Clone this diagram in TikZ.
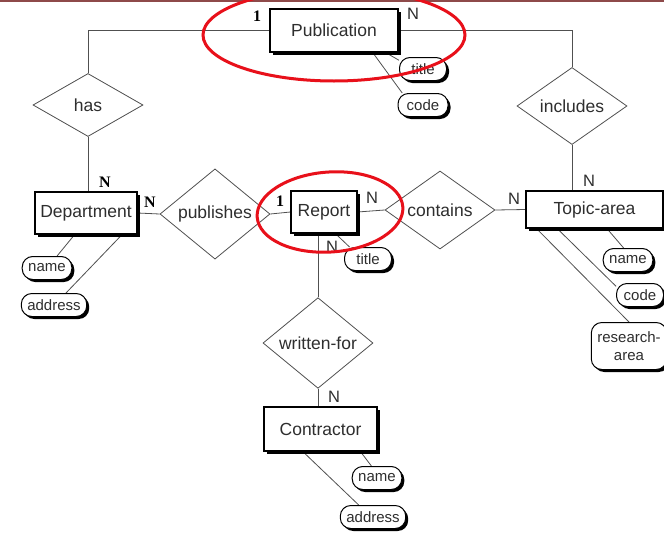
\documentclass[tikz,border=0pt]{standalone}
\usepackage{fontspec}
\setmainfont{Liberation Sans}
\newfontfamily\cardfont{Liberation Serif}
\usetikzlibrary{shapes.geometric,shadows,calc}

\definecolor{ink}{HTML}{2E2E2E}
\definecolor{edge}{HTML}{505050}
\definecolor{topband}{HTML}{8E4A4A}
\definecolor{mark}{HTML}{E8101A}

\pgfdeclarelayer{bg}
\pgfdeclarelayer{paper}
\pgfsetlayers{paper,bg,main}

\begin{document}
\begin{tikzpicture}[x=1pt,y=-1pt,
  entity/.style={draw=black, line width=1.1pt, fill=white, text=ink,
    font=\fontsize{17.5}{20}\selectfont, inner sep=0pt,
    general shadow={fill=black, shadow xshift=2.6pt, shadow yshift=-2.6pt}},
  relation/.style={diamond, draw=edge, line width=0.8pt, fill=white, text=ink,
    font=\fontsize{17.5}{20}\selectfont, inner sep=0pt,
    minimum width=110pt, minimum height=63pt},
  attr/.style={draw=black, line width=1pt, fill=white, rounded corners=10.5pt,
    text=ink, font=\fontsize{15}{18}\selectfont, inner xsep=6pt, inner ysep=0pt,
    minimum height=23pt, minimum width=47pt, align=center,
    general shadow={fill=black, shadow xshift=2.5pt, shadow yshift=-2.5pt}},
  link/.style={draw=edge, line width=0.8pt},
  card/.style={text=ink, font=\fontsize{16.5}{18}\selectfont, inner sep=0pt},
  cardb/.style={text=black, font=\cardfont\fontsize{16}{18}\selectfont\bfseries, inner sep=0pt},
  ring/.style={draw=mark, line width=3pt}
]
\useasboundingbox (0,0) rectangle (664,533);
\begin{pgfonlayer}{paper}
  \fill[white] (0,0) rectangle (664,533);
  \fill[topband] (0,0) rectangle (664,1.8);
\end{pgfonlayer}

% entities
\node[entity, minimum width=128pt, minimum height=43pt] (pub) at (334,30.5) {Publication};
\node[entity, minimum width=102pt, minimum height=42pt] (dept) at (86,213) {Department};
\node[entity, minimum width=66pt, minimum height=42pt] (rep) at (324,212) {Report};
\node[entity, minimum width=137pt, minimum height=37pt] (topic) at (594.5,209.5) {Topic-area};
\node[entity, minimum width=113pt, minimum height=44pt] (con) at (320.5,429) {Contractor};

% relationships
\node[relation] (has) at (88,105) {has};
\node[relation] (incl) at (572,106) {includes};
\node[relation] (pubs) at (215,214) {publishes};
\node[relation] (cont) at (440,210) {contains};
\node[relation] (wf) at (318,343) {written-for};

% attributes
\node[attr] (ptitle) at (423,69) {title};
\node[attr, minimum width=50pt] (pcode) at (423,105) {code};
\node[attr] (dname) at (47,268) {name};
\node[attr] (daddr) at (54,305) {address};
\node[attr] (rtitle) at (368,259) {title};
\node[attr] (tname) at (628,260) {name};
\node[attr] (tcode) at (640,295) {code};
\node[attr, minimum height=47pt] (tres) at (629,346) {research-\\area};
\node[attr] (cname) at (377,478) {name};
\node[attr] (caddr) at (373,517) {address};

% connectors
\begin{pgfonlayer}{bg}
  \draw[link] (pub.west) -| (has.north);
  \draw[link] (pub.east) -| (incl.north);
  \draw[link] (has.south) -- (has.south |- dept.north);
  \draw[link] (incl.south) -- (incl.south |- topic.north);
  \draw[link] (dept.east) -- (pubs.west);
  \draw[link] (pubs.east) -- (rep.west);
  \draw[link] (rep.east) -- (cont.west);
  \draw[link] (cont.east) -- (topic.west);
  \draw[link] (wf.north |- rep.south) -- (wf.north);
  \draw[link] (wf.south) -- (wf.south |- con.north);

  \draw[link] ($(pub.south west)!0.9!(pub.south east)$) -- (ptitle.160);
  \draw[link] ($(pub.south west)!0.8!(pub.south east)$) -- (pcode.150);
  \draw[link] ($(dept.south west)!0.39!(dept.south east)$) -- (dname.50);
  \draw[link] ($(dept.south west)!0.85!(dept.south east)$) -- (daddr.45);
  \draw[link] ($(rep.south west)!0.67!(rep.south east)$) -- (rtitle.147);
  \draw[link] ($(topic.south west)!0.59!(topic.south east)$) -- (tname.110);
  \draw[link] ($(topic.south west)!0.23!(topic.south east)$) -- (tcode.160);
  \draw[link] ($(topic.south west)!0.08!(topic.south east)$) -- (tres.north);
  \draw[link] ($(con.south west)!0.85!(con.south east)$) -- (cname.115);
  \draw[link] ($(con.south west)!0.345!(con.south east)$) -- (caddr.140);
\end{pgfonlayer}

% cardinalities
\node[cardb] (c1) at (257,16) {1};
\node[card] (c2) at (413,14) {N};
\node[cardb] (c3) at (105,182) {N};
\node[cardb] (c4) at (150,202) {N};
\node[cardb] (c5) at (280,201) {1};
\node[card] (c6) at (372,198) {N};
\node[card] (c7) at (332,247) {N};
\node[card] (c8) at (514,199) {N};
\node[card] (c9) at (589,181) {N};
\node[card] (c10) at (334,397) {N};

% highlight rings
\draw[ring] (334,35) ellipse [x radius=131pt, y radius=46pt];
\draw[ring, rotate around={4:(330,212)}] (330,212) ellipse [x radius=73pt, y radius=40pt];
\end{tikzpicture}
\end{document}
